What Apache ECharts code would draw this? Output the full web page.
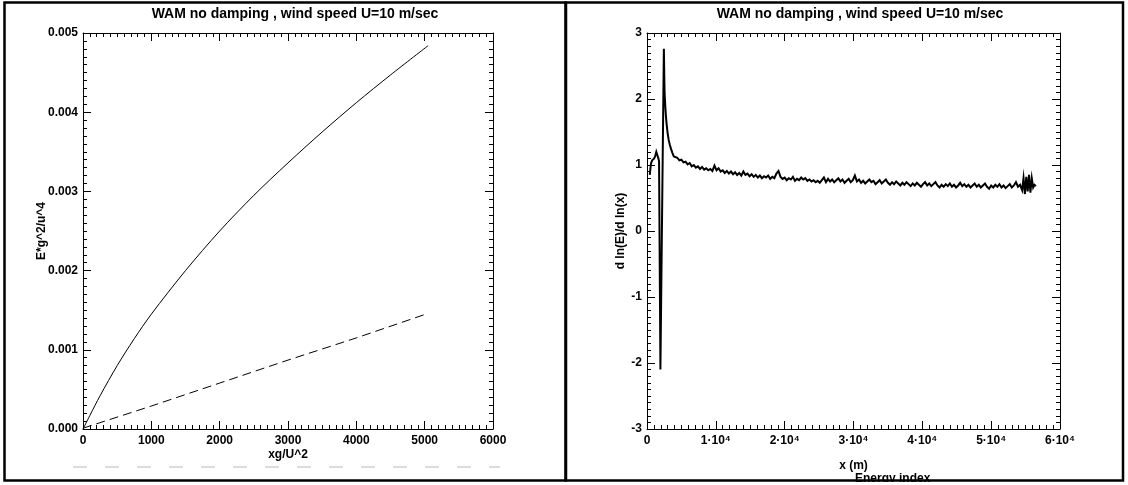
<!DOCTYPE html>
<html>
<head>
<meta charset="utf-8">
<script src="https://cdn.jsdelivr.net/npm/echarts@6/dist/echarts.min.js"></script>
<style>
html,body{margin:0;padding:0;background:#fff;}
#c{width:1128px;height:485px;}
</style>
</head>
<body>
<div id="c"></div>
<script>
// ---------- DATA ----------
var titleText = 'WAM no damping , wind speed U=10 m/sec';

// Left panel: E*g^2/u^4 vs xg/U^2
var leftSolidX = [0, 100, 250, 500, 750, 1000, 1500, 2000, 2500, 3000, 3500, 4000, 4500, 5050];
var leftSolidY = [0, 0.00017, 0.00042, 0.00080, 0.00114, 0.00145, 0.00200, 0.00250, 0.00295, 0.00336, 0.00375, 0.00412, 0.00447, 0.00484];
var leftDashX = [0, 1000, 2000, 3000, 4000, 5050];
var leftDashY = [0.00001, 0.00029, 0.00058, 0.00087, 0.00115, 0.00146];

// Right panel: d ln(E)/d ln(x) vs x (m)
var rightXY = [
[400,0.85],[500,0.95],[600,1.03],[750,1.07],[900,1.09],[1050,1.10],[1200,1.14],[1350,1.20],[1450,1.22],[1550,1.18],[1650,1.10],[1750,1.06],
[1950,-2.10],[2450,2.76],[2550,2.10],[2650,1.90],[2750,1.74],[2850,1.62],[3000,1.48],[3150,1.38],[3300,1.31],[3500,1.24],[3700,1.18],[3900,1.13],
[4100,1.10],[4400,1.11],[4700,1.07],[5000,1.08],[5300,1.04],[5600,1.05],[5900,1.01],[6200,1.03],[6500,0.98],[6800,1.00],
[7100,0.96],[7400,0.98],[7700,0.94],[8000,0.97],[8300,0.93],[8600,0.95],[8900,0.92],[9200,0.94],[9500,0.91],[9800,0.99],
[10100,0.92],[10400,0.95],[10700,0.90],[11000,0.92],[11300,0.88],[11600,0.91],[11900,0.87],[12200,0.90],[12500,0.86],[12800,0.89],
[13100,0.85],[13400,0.88],[13700,0.84],[14000,0.90],[14300,0.85],[14600,0.87],[14900,0.83],[15200,0.86],[15500,0.82],[15800,0.85],
[16100,0.81],[16400,0.84],[16700,0.80],[17000,0.83],[17300,0.81],[17600,0.84],[17900,0.79],[18200,0.82],[18500,0.80],[18800,0.87],
[19100,0.91],[19400,0.82],[19700,0.79],[20000,0.81],[20300,0.77],[20600,0.80],[20900,0.78],[21200,0.82],[21500,0.76],[21800,0.79],
[22100,0.77],[22400,0.81],[22700,0.78],[23000,0.80],[23300,0.76],[23600,0.78],[23900,0.75],[24200,0.77],[24500,0.74],[24800,0.76],
[25100,0.73],[25400,0.77],[25700,0.81],[26000,0.74],[26300,0.79],[26600,0.75],[26900,0.78],[27200,0.74],[27500,0.77],[27800,0.80],
[28100,0.75],[28400,0.78],[28700,0.73],[29000,0.76],[29300,0.79],[29600,0.74],[29900,0.77],[30200,0.84],[30500,0.75],[30800,0.78],
[31100,0.73],[31400,0.76],[31700,0.72],[32000,0.75],[32300,0.78],[32600,0.74],[32900,0.76],[33200,0.71],[33500,0.74],[33800,0.77],
[34100,0.72],[34400,0.75],[34700,0.78],[35000,0.73],[35300,0.70],[35600,0.74],[35900,0.71],[36200,0.75],[36500,0.72],[36800,0.69],
[37100,0.73],[37400,0.70],[37700,0.74],[38000,0.71],[38300,0.68],[38600,0.72],[38900,0.69],[39200,0.73],[39500,0.70],[39800,0.67],
[40100,0.71],[40400,0.74],[40700,0.69],[41000,0.72],[41300,0.68],[41600,0.71],[41900,0.74],[42200,0.69],[42500,0.66],[42800,0.70],
[43100,0.67],[43400,0.71],[43700,0.68],[44000,0.72],[44300,0.67],[44600,0.70],[44900,0.66],[45200,0.69],[45500,0.73],[45800,0.68],
[46100,0.71],[46400,0.67],[46700,0.70],[47000,0.66],[47300,0.69],[47600,0.72],[47900,0.67],[48200,0.70],[48500,0.66],[48800,0.69],
[49100,0.72],[49400,0.67],[49700,0.64],[50000,0.69],[50300,0.66],[50600,0.70],[50900,0.67],[51200,0.71],[51500,0.66],[51800,0.69],
[52100,0.65],[52400,0.68],[52700,0.71],[53000,0.66],[53300,0.69],[53600,0.74],[53900,0.67],[54200,0.70],[54500,0.62],[54700,0.80],
[54900,0.56],[55100,0.82],[55300,0.60],[55500,0.85],[55700,0.58],[55900,0.80],[56100,0.66],[56300,0.70],[56500,0.68]
];

var leftXTicks = {min: 0, max: 6000, interval: 1000};
var leftYTicks = {min: 0, max: 0.005, interval: 0.001};
var rightXTicks = {min: 0, max: 60000, interval: 10000};
var rightYTicks = {min: -3, max: 3, interval: 1};

// ---------- CHART ----------
var FONT = 'Liberation Sans';
function zip(a, b) { return a.map(function (v, i) { return [v, b[i]]; }); }

function axisBase(extra) {
  var o = {
    axisLine: {show: true, onZero: false, lineStyle: {color: '#000', width: 1}},
    axisTick: {show: true, inside: true, length: 8, lineStyle: {color: '#000', width: 1}},
    minorTick: {show: true, splitNumber: 10, length: 4, lineStyle: {color: '#000', width: 1}},
    splitLine: {show: false},
    minorSplitLine: {show: false},
    axisLabel: {show: true, color: '#000', fontFamily: FONT, fontWeight: 'bold', fontSize: 12},
    nameTextStyle: {color: '#000', fontFamily: FONT, fontWeight: 'bold', fontSize: 12},
    nameLocation: 'middle',
    nameMoveOverlap: false
  };
  for (var k in extra) o[k] = extra[k];
  return o;
}

var chart = echarts.init(document.getElementById('c'), null, {renderer: 'canvas'});
var option = {
  animation: false,
  backgroundColor: '#fff',
  title: [
    {text: titleText, left: 290, top: 2, textAlign: 'center',
     textStyle: {fontFamily: FONT, fontWeight: 'bold', fontSize: 14, color: '#000'}},
    {text: titleText, left: 855, top: 2, textAlign: 'center',
     textStyle: {fontFamily: FONT, fontWeight: 'bold', fontSize: 14, color: '#000'}}
  ],
  grid: [
    {left: 83, top: 33, width: 410, height: 396, containLabel: false},
    {left: 647, top: 33, width: 413, height: 396, containLabel: false}
  ],
  xAxis: [
    axisBase({type: 'value', gridIndex: 0, position: 'bottom', min: leftXTicks.min, max: leftXTicks.max, interval: leftXTicks.interval,
      name: 'xg/U^2', nameGap: 20,
      axisLabel: {color: '#000', fontFamily: FONT, fontWeight: 'bold', fontSize: 12, margin: 6,
        formatter: function (v) { return String(v); }}}),
    axisBase({type: 'value', gridIndex: 0, position: 'top', min: leftXTicks.min, max: leftXTicks.max, interval: leftXTicks.interval,
      axisLabel: {show: false}}),
    axisBase({type: 'value', gridIndex: 1, position: 'bottom', min: rightXTicks.min, max: rightXTicks.max, interval: rightXTicks.interval,
      name: 'x (m)', nameGap: 31,
      axisLabel: {color: '#000', fontFamily: FONT, fontWeight: 'bold', fontSize: 12, margin: 6,
        formatter: function (v) { return v === 0 ? '0' : (v / 10000) + '·10⁴'; }}}),
    axisBase({type: 'value', gridIndex: 1, position: 'top', min: rightXTicks.min, max: rightXTicks.max, interval: rightXTicks.interval,
      axisLabel: {show: false}})
  ],
  yAxis: [
    axisBase({type: 'value', gridIndex: 0, position: 'left', min: leftYTicks.min, max: leftYTicks.max, interval: leftYTicks.interval,
      name: 'E*g^2/u^4', nameGap: 35,
      axisLabel: {color: '#000', fontFamily: FONT, fontWeight: 'bold', fontSize: 12, margin: 5,
        formatter: function (v) { return v.toFixed(3); }}}),
    axisBase({type: 'value', gridIndex: 0, position: 'right', min: leftYTicks.min, max: leftYTicks.max, interval: leftYTicks.interval,
      axisLabel: {show: false}}),
    axisBase({type: 'value', gridIndex: 1, position: 'left', min: rightYTicks.min, max: rightYTicks.max, interval: rightYTicks.interval,
      name: 'd ln(E)/d ln(x)', nameGap: 20,
      axisLabel: {color: '#000', fontFamily: FONT, fontWeight: 'bold', fontSize: 12, margin: 5}}),
    axisBase({type: 'value', gridIndex: 1, position: 'right', min: rightYTicks.min, max: rightYTicks.max, interval: rightYTicks.interval,
      axisLabel: {show: false}})
  ],
  series: [
    {type: 'line', xAxisIndex: 0, yAxisIndex: 0, data: zip(leftSolidX, leftSolidY), smooth: 0.3,
     showSymbol: false, symbol: 'none', lineStyle: {color: '#000', width: 1}},
    {type: 'line', xAxisIndex: 0, yAxisIndex: 0, data: zip(leftDashX, leftDashY),
     showSymbol: false, symbol: 'none', lineStyle: {color: '#000', width: 1, type: [9, 5]}},
    {type: 'line', xAxisIndex: 2, yAxisIndex: 2, data: rightXY,
     showSymbol: false, symbol: 'none', lineStyle: {color: '#000', width: 2, join: 'miter'}}
  ],
  graphic: [
    {type: 'line', z: 1, shape: {x1: 73, y1: 467, x2: 500, y2: 467},
     style: {stroke: '#dcdcdc', lineWidth: 2, lineDash: [14, 18]}},
    {type: 'text', z: 5, left: 855, top: 473, style: {text: 'Energy index', fill: '#000',
      font: 'bold 12px "Liberation Sans"', textAlign: 'center'}},
    {type: 'rect', z: 10, shape: {x: 4.5, y: 2.5, width: 561, height: 478},
     style: {fill: 'none', stroke: '#000', lineWidth: 2.5}},
    {type: 'rect', z: 10, shape: {x: 566, y: 2.5, width: 557, height: 478},
     style: {fill: 'none', stroke: '#000', lineWidth: 2.5}},
    {type: 'rect', z: 11, shape: {x: 0, y: 482, width: 1128, height: 3},
     style: {fill: '#fff'}}
  ]
};
chart.setOption(option);
</script>
</body>
</html>
